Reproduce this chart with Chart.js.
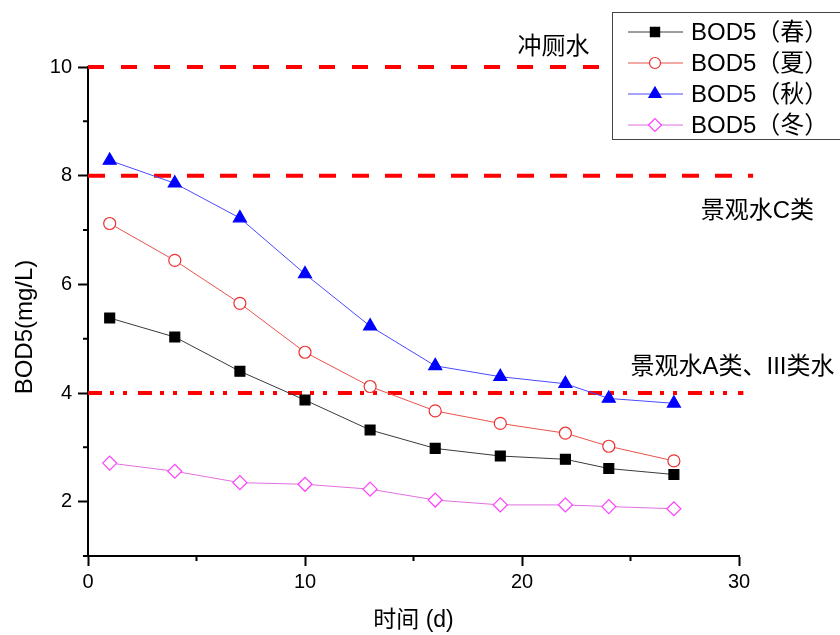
<!DOCTYPE html>
<html>
<head>
<meta charset="utf-8">
<script src="https://cdn.jsdelivr.net/npm/chart.js@4.4.0/dist/chart.umd.min.js"></script>
<style>
  html, body { margin: 0; padding: 0; background: #fff; }
  #wrap { width: 840px; height: 635px; }
</style>
</head>
<body>
<div id="wrap"><canvas id="bod"></canvas></div>
<script>
// sampling days and BOD5 values (mg/L) per season
const days = [1, 4, 7, 10, 13, 16, 19, 22, 24, 27];
const spring = [5.38, 5.03, 4.40, 3.87, 3.32, 2.98, 2.84, 2.78, 2.61, 2.50];
const summer = [7.12, 6.44, 5.65, 4.75, 4.12, 3.67, 3.44, 3.26, 3.02, 2.75];
const autumn = [8.28, 7.86, 7.22, 6.19, 5.23, 4.50, 4.30, 4.17, 3.90, 3.81];
const winter = [2.71, 2.56, 2.35, 2.32, 2.23, 2.03, 1.94, 1.94, 1.91, 1.87];
const seriesNames = ['BOD5（春）', 'BOD5（夏）', 'BOD5（秋）', 'BOD5（冬）'];

// standard limit lines: value and where the line stops on the x axis
const limitValues = [10, 8, 4];
const limitEnds = [23.7, 30.65, 30.2];
const limitNames = ['冲厕水', '景观水C类', '景观水A类、III类水'];

const xTicks = [0, 10, 20, 30];
const yTicks = [2, 4, 6, 8, 10];
const xMinor = [5, 15, 25];
const yMinor = [1, 3, 5, 7, 9];

const FONT = '"Liberation Sans", Arial, "Noto Sans CJK SC", sans-serif';

function pts(ys) {
    return days.map((d, i) => ({x: d, y: ys[i]}));
}

const styles = [
    {line: '#3a3a3a', border: '#000', fill: '#000', point: 'rect', r: 7},
    {line: '#e8524a', border: '#ee3030', fill: '#fff', point: 'circle', r: 6},
    {line: '#4a4aff', border: '#0000ff', fill: '#0000ff', point: 'triangle', r: 7.5},
    {line: '#e070e0', border: '#ff40ff', fill: '#fff', point: 'rectRot', r: 7}
];

let datasets = [spring, summer, autumn, winter].map((s, i) => ({
    label: seriesNames[i],
    data: pts(s),
    borderColor: styles[i].line,
    borderWidth: 1,
    pointStyle: styles[i].point,
    pointRadius: styles[i].r,
    pointBorderWidth: 1.2,
    pointBackgroundColor: styles[i].fill,
    pointBorderColor: styles[i].border,
    tension: 0
}));

const limitDash = [[16, 17], [17, 16], [14, 8, 4, 9, 4, 11]];
limitValues.forEach((v, i) => {
    datasets.push({
        label: limitNames[i],
        data: [{x: 0, y: v}, {x: limitEnds[i], y: v}],
        borderColor: '#ff0000',
        borderWidth: 4,
        borderDash: limitDash[i],
        pointRadius: 0,
        clip: false
    });
});

// short minor ticks, y title, limit labels, boxed legend
const extras = {
    id: 'extras',
    afterDraw(chart) {
        const {ctx, chartArea} = chart;
        const x = chart.scales.x, y = chart.scales.y;
        ctx.save();
        ctx.strokeStyle = '#000';
        ctx.lineWidth = 2;
        ctx.beginPath();
        xMinor.forEach(v => {
            let px = x.getPixelForValue(v);
            ctx.moveTo(px, chartArea.bottom);
            ctx.lineTo(px, chartArea.bottom + 5);
        });
        yMinor.forEach(v => {
            let py = y.getPixelForValue(v);
            ctx.moveTo(chartArea.left, py);
            ctx.lineTo(chartArea.left - 5, py);
        });
        ctx.stroke();

        // y axis title (sits a bit below the axis middle in the original)
        ctx.fillStyle = '#000';
        ctx.font = '24px ' + FONT;
        ctx.textAlign = 'center';
        ctx.textBaseline = 'middle';
        ctx.save();
        ctx.translate(25, 327);
        ctx.rotate(-Math.PI / 2);
        ctx.fillText('BOD5(mg/L)', 0, 0);
        ctx.restore();

        // labels of the limit lines
        ctx.font = '24px ' + FONT;
        ctx.fillText(limitNames[0], x.getPixelForValue(21.45), y.getPixelForValue(10.37));
        ctx.fillText(limitNames[1], x.getPixelForValue(30.85), y.getPixelForValue(7.35));
        ctx.fillText(limitNames[2], x.getPixelForValue(29.7), y.getPixelForValue(4.48));

        // legend
        ctx.lineWidth = 1;
        ctx.strokeStyle = '#444';
        ctx.strokeRect(612.5, 12.5, 240, 127);
        ctx.font = '24px ' + FONT;
        ctx.textAlign = 'left';
        for (let i = 0; i < 4; i++) {
            let ry = 32 + i * 31;
            ctx.strokeStyle = styles[i].line;
            ctx.lineWidth = 1;
            ctx.beginPath();
            ctx.moveTo(628, ry);
            ctx.lineTo(683, ry);
            ctx.stroke();
            ctx.fillStyle = styles[i].fill;
            ctx.strokeStyle = styles[i].border;
            ctx.lineWidth = 1.2;
            Chart.helpers.drawPoint(ctx, {pointStyle: styles[i].point, radius: styles[i].r - 0.5, rotation: 0, borderWidth: 1.2}, 655, ry);
            ctx.fillStyle = '#000';
            ctx.fillText(seriesNames[i], 691, ry + 1);
        }
        ctx.restore();
    }
};

new Chart(document.getElementById('bod'), {
    type: 'line',
    data: {datasets: datasets},
    options: {
        responsive: true,
        maintainAspectRatio: false,
        animation: false,
        layout: {padding: {top: 67, right: 101, left: 0, bottom: 0}},
        plugins: {
            legend: {display: false},
            tooltip: {enabled: false}
        },
        scales: {
            x: {
                type: 'linear',
                min: 0,
                max: 30,
                afterBuildTicks: s => { s.ticks = xTicks.map(v => ({value: v})); },
                afterFit: s => { s.height = 79; },
                border: {color: '#000', width: 2},
                grid: {drawOnChartArea: false, tickLength: 10, tickColor: '#000', tickWidth: 2},
                ticks: {color: '#000', font: {family: FONT, size: 20}, padding: 4, maxRotation: 0},
                title: {display: true, text: '时间 (d)', color: '#000', font: {family: FONT, size: 23}, padding: {top: 0, bottom: 1}}
            },
            y: {
                min: 1,
                max: 10,
                afterBuildTicks: s => { s.ticks = yTicks.map(v => ({value: v})); },
                afterFit: s => { s.width = 88; },
                border: {color: '#000', width: 2},
                grid: {drawOnChartArea: false, tickLength: 10, tickColor: '#000', tickWidth: 2},
                ticks: {color: '#000', font: {family: FONT, size: 20}, padding: 6},
                title: {display: false}
            }
        }
    },
    plugins: [extras]
});
</script>
</body>
</html>
